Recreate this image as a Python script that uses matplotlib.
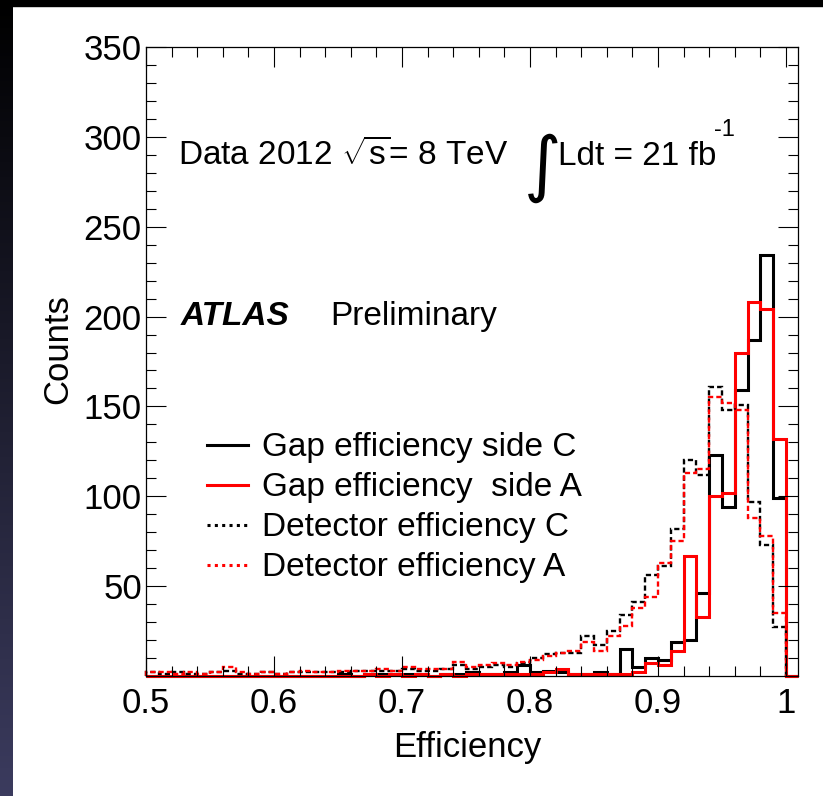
import matplotlib.pyplot as plt
import numpy as np
from matplotlib.colors import LinearSegmentedColormap
from matplotlib.lines import Line2D
from matplotlib.patches import Rectangle

plt.rcParams['font.family'] = ['Liberation Sans', 'DejaVu Sans']
plt.rcParams['mathtext.fontset'] = 'custom'
plt.rcParams['mathtext.rm'] = 'Liberation Sans'
plt.rcParams['mathtext.it'] = 'Liberation Sans:italic'

W, H = 823, 796

# efficiency bins, 0.01 wide between 0.5 and 1.0
bin_edges = np.linspace(0.5, 1.0, 51)
x_max = 1.0094

# counts per bin (bins 0.50 ... 0.99)
gap_c = [0, 0, 0, 0, 0, 0, 0, 0, 0, 0,
         0, 0, 0, 0, 0, 1, 0, 1, 1, 1,
         1, 1, 0, 1, 1, 2, 1, 1, 2, 6,
         2, 3, 2, 1, 1, 2, 1, 15, 5, 10,
         9, 19, 20, 46, 123, 94, 159, 187, 234, 99]
gap_a = [0, 0, 0, 0, 0, 0, 0, 0, 0, 0,
         0, 0, 0, 0, 0, 0, 0, 1, 0, 1,
         0, 1, 0, 1, 0, 1, 1, 1, 1, 1,
         1, 2, 4, 1, 1, 1, 1, 1, 2, 7,
         6, 14, 67, 33, 100, 102, 180, 208, 204, 132]
det_c = [2, 1, 2, 1, 1, 2, 3, 1, 1, 2,
         1, 2, 2, 2, 2, 2, 3, 3, 3, 3,
         4, 3, 3, 4, 6, 4, 5, 6, 5, 7,
         10, 12, 13, 13, 22, 17, 25, 34, 41, 56,
         61, 82, 120, 112, 161, 148, 151, 97, 73, 27]
det_a = [2, 2, 1, 2, 1, 2, 5, 2, 1, 2,
         1, 2, 3, 2, 2, 3, 3, 3, 4, 3,
         5, 4, 4, 4, 8, 5, 6, 7, 6, 8,
         9, 11, 13, 14, 19, 14, 22, 28, 38, 44,
         63, 75, 113, 115, 155, 152, 148, 88, 78, 35]

legend_labels = ['Gap efficiency side C', 'Gap efficiency  side A',
                 'Detector efficiency C', 'Detector efficiency A']
x_ticks = [0.5, 0.6, 0.7, 0.8, 0.9, 1.0]
x_ticklabels = ['0.5', '0.6', '0.7', '0.8', '0.9', '1']
y_ticks = [50, 100, 150, 200, 250, 300, 350]


def fxy(px, py):
    # pixel position -> figure fraction
    return px / W, 1 - py / H


fig = plt.figure(figsize=(W / 100, H / 100), dpi=100)
fig.patch.set_facecolor('white')

# dark slide border
fig.patches.append(Rectangle((0, 1 - 6 / H), 1, 6 / H, transform=fig.transFigure,
                             color='black', zorder=0))
ax_bg = fig.add_axes([0, 0, 13 / W, 1])
cmap = LinearSegmentedColormap.from_list('slide', ['#000000', '#3b3b5e'])
ax_bg.imshow(np.linspace(0, 1, 256)[:, None], aspect='auto', cmap=cmap)
ax_bg.set_axis_off()

ax = fig.add_axes([146 / W, 1 - 676 / H, (798 - 146) / W, (676 - 47) / H])

edges_ovf = np.append(bin_edges, x_max)
dash = (0, (2.2, 1.3))
ax.stairs(np.append(gap_c, 0), edges_ovf, color='black', lw=2.2, clip_on=False)
ax.stairs(np.append(gap_a, 0), edges_ovf, color='red', lw=2.2, clip_on=False)
ax.stairs(det_c, bin_edges, color='black', lw=1.7, ls=dash, clip_on=False)
ax.stairs(det_a, bin_edges, color='red', lw=1.7, ls=dash, clip_on=False)

ax.set_xlim(0.5, x_max)
ax.set_ylim(0, 350)
ax.set_xticks(x_ticks)
ax.set_xticklabels(x_ticklabels)
ax.set_xticks(np.linspace(0.5, 1.0, 26), minor=True)
ax.set_yticks(y_ticks)
ax.set_yticks(np.arange(0, 351, 10), minor=True)
ax.tick_params(which='both', direction='in', top=True, right=True, width=0.8)
ax.tick_params(which='major', length=14.5, labelsize=25)
ax.tick_params(which='minor', length=7)
ax.tick_params(axis='x', pad=8)
ax.tick_params(axis='y', pad=3)
for s in ax.spines.values():
    s.set_linewidth(0.9)

ax.set_xlabel('Efficiency', fontsize=25, va='top')
ax.xaxis.set_label_coords(0.492, -0.087)
ax.set_ylabel('Counts', fontsize=25)
ax.yaxis.set_label_coords(-0.11, 0.52)

# legend
styles = [dict(color='black', lw=2.2), dict(color='red', lw=2.2),
          dict(color='black', lw=2.2, ls=(0, (1.0, 1.4))),
          dict(color='red', lw=2.2, ls=(0, (1.0, 1.4)))]
for i, (lab, st) in enumerate(zip(legend_labels, styles)):
    yc = 445 + 40 * i
    x0, y0 = fxy(207, yc)
    x1, _ = fxy(248, yc)
    fig.add_artist(Line2D([x0, x1], [y0, y0], transform=fig.transFigure, **st))
    fig.text(*fxy(262, yc + 11), lab, fontsize=24, va='baseline')

# labels
fig.text(*fxy(178, 165), r'Data 2012 $\sqrt{\mathrm{s}}$= 8 TeV', fontsize=24, va='baseline')
fig.text(*fxy(524, 188), '\u222b', fontsize=52, va='baseline', family='DejaVu Sans')
fig.text(*fxy(558, 165), 'Ldt = 21 fb', fontsize=24, va='baseline')
fig.text(*fxy(714, 136), '-1', fontsize=17, va='baseline')
fig.text(*fxy(181, 325), 'ATLAS', fontsize=24, weight='bold', style='italic', va='baseline')
fig.text(*fxy(330, 325), 'Preliminary', fontsize=24, va='baseline')

fig.savefig('out.png', dpi=100)
